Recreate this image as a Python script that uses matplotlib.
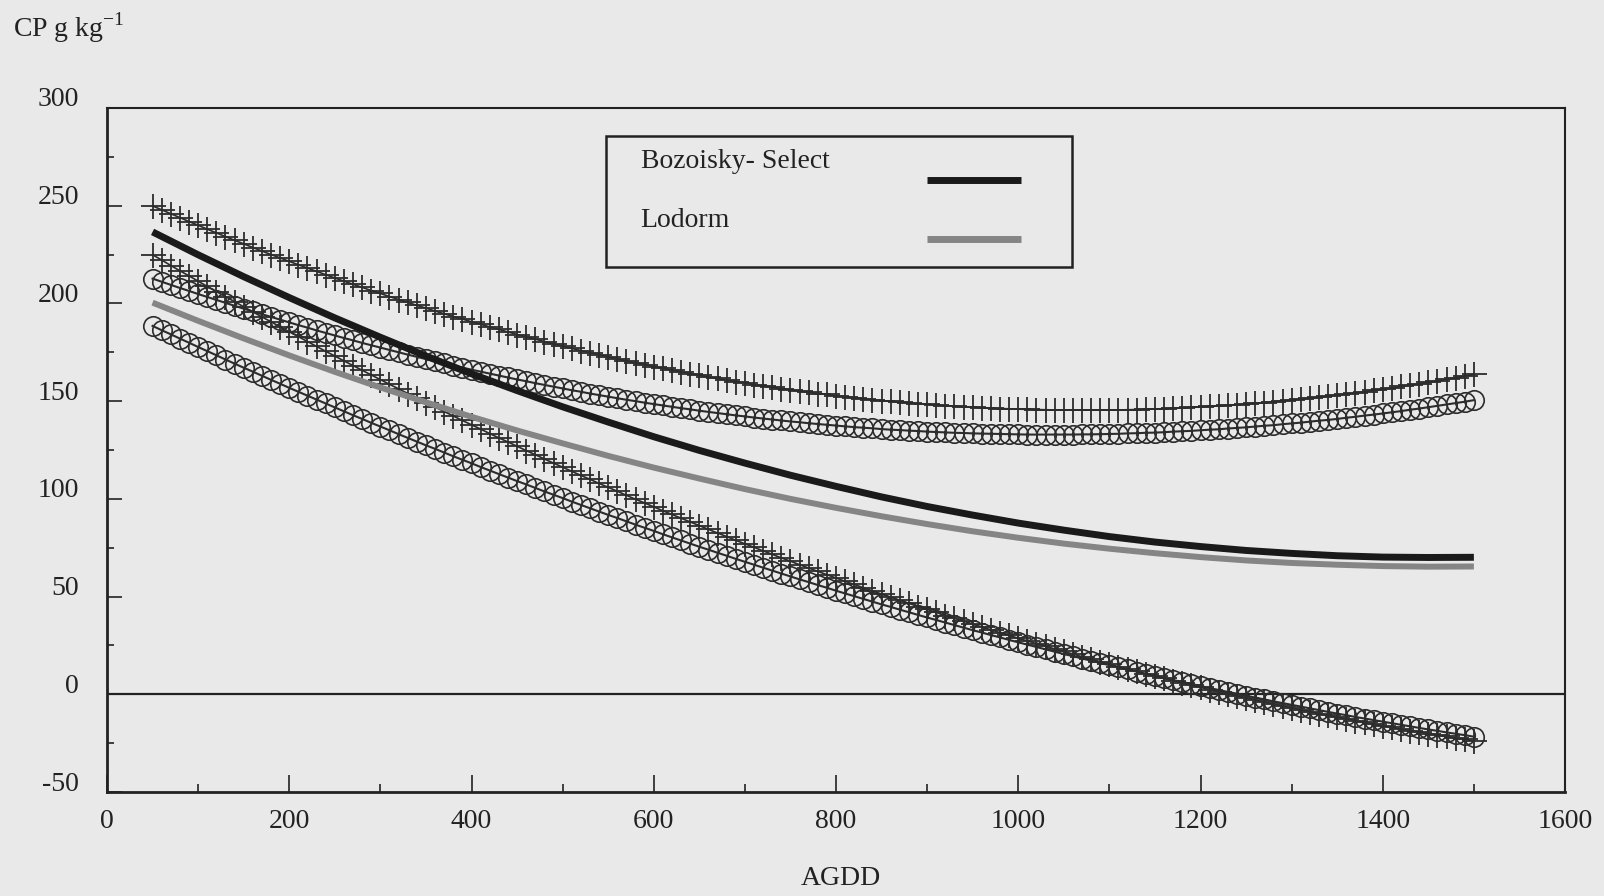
import numpy as np
import matplotlib.pyplot as plt
from matplotlib.transforms import ScaledTranslation
from matplotlib.patches import Rectangle
from matplotlib.lines import Line2D

plt.rcParams['font.family'] = ['Liberation Serif', 'DejaVu Serif']
plt.rcParams['mathtext.fontset'] = 'custom'
plt.rcParams['mathtext.rm'] = 'Liberation Serif'
plt.rcParams['axes.unicode_minus'] = False

# AGDD grid of the confidence-limit markers (every 10 units) and of the fitted curves
agdd_pts = np.arange(50, 1501, 10)
agdd_fit = np.arange(50, 1501, 50)

# fitted CP, g/kg
bozoisky = [236.6, 224.9, 213.7, 203.0, 192.6, 182.7, 173.1, 164.0, 155.4, 147.1,
            139.3, 131.8, 124.8, 118.3, 112.1, 106.4, 101.0, 96.1, 91.7, 87.6,
            84.0, 80.7, 77.9, 75.6, 73.6, 72.1, 70.9, 70.2, 70.0, 70.1]
lodorm = [200.4, 191.1, 182.1, 173.4, 165.0, 157.0, 149.4, 142.0, 135.0, 128.4,
          122.0, 116.0, 110.4, 105.0, 100.0, 95.4, 91.1, 87.1, 83.4, 80.1,
          77.1, 74.5, 72.2, 70.2, 68.5, 67.2, 66.3, 65.6, 65.3, 65.4]

# confidence limits, Bozoisky- Select (+)
boz_upper = [249.9, 247.9, 245.9, 243.9, 241.9, 240.0, 238.0, 236.1, 234.2, 232.3,
             230.5, 228.6, 226.8, 225.0, 223.3, 221.5, 219.8, 218.1, 216.4, 214.7,
             213.0, 211.4, 209.8, 208.2, 206.6, 205.1, 203.5, 202.0, 200.5, 199.0,
             197.6, 196.1, 194.7, 193.3, 192.0, 190.6, 189.3, 188.0, 186.7, 185.4,
             184.1, 182.9, 181.7, 180.5, 179.3, 178.2, 177.0, 175.9, 174.8, 173.7,
             172.7, 171.6, 170.6, 169.6, 168.7, 167.7, 166.8, 165.9, 165.0, 164.1,
             163.2, 162.4, 161.6, 160.8, 160.0, 159.3, 158.5, 157.8, 157.1, 156.4,
             155.8, 155.1, 154.5, 153.9, 153.4, 152.8, 152.3, 151.8, 151.3, 150.8,
             150.3, 149.9, 149.5, 149.1, 148.7, 148.4, 148.0, 147.7, 147.4, 147.1,
             146.9, 146.6, 146.4, 146.2, 146.1, 145.9, 145.8, 145.7, 145.6, 145.5,
             145.4, 145.4, 145.4, 145.4, 145.4, 145.5, 145.5, 145.6, 145.7, 145.8,
             146.0, 146.1, 146.3, 146.5, 146.8, 147.0, 147.3, 147.6, 147.9, 148.2,
             148.5, 148.9, 149.3, 149.7, 150.1, 150.6, 151.0, 151.5, 152.0, 152.5,
             153.1, 153.6, 154.2, 154.8, 155.5, 156.1, 156.8, 157.5, 158.2, 158.9,
             159.6, 160.4, 161.2, 162.0, 162.8, 163.7]
boz_lower = [224.9, 222.2, 219.4, 216.7, 214.1, 211.4, 208.7, 206.1, 203.5, 200.9,
             198.3, 195.7, 193.1, 190.6, 188.0, 185.5, 183.0, 180.5, 178.0, 175.5,
             173.1, 170.6, 168.2, 165.8, 163.4, 161.0, 158.6, 156.3, 153.9, 151.6,
             149.3, 147.0, 144.7, 142.4, 140.1, 137.9, 135.7, 133.4, 131.2, 129.1,
             126.9, 124.7, 122.6, 120.4, 118.3, 116.2, 114.1, 112.0, 110.0, 107.9,
             105.9, 103.9, 101.8, 99.8, 97.9, 95.9, 93.9, 92.0, 90.1, 88.2,
             86.3, 84.4, 82.5, 80.7, 78.8, 77.0, 75.2, 73.4, 71.6, 69.8,
             68.1, 66.3, 64.6, 62.9, 61.2, 59.5, 57.8, 56.2, 54.5, 52.9,
             51.3, 49.7, 48.1, 46.5, 44.9, 43.4, 41.9, 40.3, 38.8, 37.4,
             35.9, 34.4, 33.0, 31.5, 30.1, 28.7, 27.3, 25.9, 24.6, 23.2,
             21.9, 20.6, 19.2, 17.9, 16.7, 15.4, 14.1, 12.9, 11.7, 10.5,
             9.3, 8.1, 6.9, 5.8, 4.6, 3.5, 2.4, 1.3, 0.2, -0.9,
             -1.9, -3.0, -4.0, -5.0, -6.0, -7.0, -8.0, -8.9, -9.9, -10.8,
             -11.7, -12.6, -13.5, -14.4, -15.3, -16.1, -16.9, -17.8, -18.6, -19.3,
             -20.1, -20.9, -21.6, -22.4, -23.1, -23.8]

# confidence limits, Lodorm (o)
lod_upper = [212.7, 211.1, 209.5, 207.9, 206.4, 204.8, 203.3, 201.8, 200.3, 198.8,
             197.3, 195.9, 194.5, 193.1, 191.7, 190.3, 188.9, 187.6, 186.2, 184.9,
             183.6, 182.3, 181.1, 179.8, 178.6, 177.4, 176.2, 175.0, 173.8, 172.7,
             171.5, 170.4, 169.3, 168.2, 167.2, 166.1, 165.1, 164.1, 163.1, 162.1,
             161.1, 160.2, 159.2, 158.3, 157.4, 156.5, 155.6, 154.8, 153.9, 153.1,
             152.3, 151.5, 150.7, 150.0, 149.2, 148.5, 147.8, 147.1, 146.4, 145.8,
             145.1, 144.5, 143.9, 143.3, 142.7, 142.2, 141.6, 141.1, 140.6, 140.1,
             139.6, 139.2, 138.7, 138.3, 137.9, 137.5, 137.1, 136.7, 136.4, 136.1,
             135.7, 135.4, 135.2, 134.9, 134.7, 134.4, 134.2, 134.0, 133.8, 133.7,
             133.5, 133.4, 133.3, 133.2, 133.1, 133.0, 132.9, 132.9, 132.9, 132.9,
             132.9, 132.9, 133.0, 133.0, 133.1, 133.2, 133.3, 133.5, 133.6, 133.8,
             133.9, 134.1, 134.4, 134.6, 134.8, 135.1, 135.4, 135.6, 136.0, 136.3,
             136.6, 137.0, 137.4, 137.7, 138.2, 138.6, 139.0, 139.5, 140.0, 140.4,
             140.9, 141.5, 142.0, 142.6, 143.1, 143.7, 144.3, 144.9, 145.6, 146.2,
             146.9, 147.6, 148.3, 149.0, 149.7, 150.5]
lod_lower = [188.5, 186.3, 184.2, 182.0, 179.9, 177.7, 175.6, 173.5, 171.3, 169.2,
             167.1, 165.1, 163.0, 160.9, 158.9, 156.8, 154.8, 152.8, 150.8, 148.8,
             146.8, 144.8, 142.8, 140.9, 138.9, 137.0, 135.1, 133.1, 131.2, 129.3,
             127.4, 125.6, 123.7, 121.8, 120.0, 118.2, 116.3, 114.5, 112.7, 110.9,
             109.1, 107.4, 105.6, 103.8, 102.1, 100.4, 98.6, 96.9, 95.2, 93.5,
             91.8, 90.2, 88.5, 86.8, 85.2, 83.6, 81.9, 80.3, 78.7, 77.1,
             75.5, 74.0, 72.4, 70.9, 69.3, 67.8, 66.3, 64.8, 63.3, 61.8,
             60.3, 58.8, 57.4, 55.9, 54.5, 53.0, 51.6, 50.2, 48.8, 47.4,
             46.0, 44.7, 43.3, 42.0, 40.6, 39.3, 38.0, 36.7, 35.4, 34.1,
             32.8, 31.6, 30.3, 29.1, 27.8, 26.6, 25.4, 24.2, 23.0, 21.8,
             20.6, 19.5, 18.3, 17.2, 16.0, 14.9, 13.8, 12.7, 11.6, 10.5,
             9.4, 8.4, 7.3, 6.3, 5.3, 4.2, 3.2, 2.2, 1.2, 0.3,
             -0.7, -1.7, -2.6, -3.6, -4.5, -5.4, -6.3, -7.2, -8.1, -9.0,
             -9.9, -10.7, -11.6, -12.4, -13.2, -14.0, -14.8, -15.6, -16.4, -17.2,
             -18.0, -18.7, -19.5, -20.2, -20.9, -21.7]

x_ticks = [0, 200, 400, 600, 800, 1000, 1200, 1400, 1600]
y_ticks = [-50, 0, 50, 100, 150, 200, 250, 300]

BG = '#e9e9e9'
INK = '#222222'
MARK = '#2c2c2c'
FS = 20

fig = plt.figure(figsize=(16.04, 8.96), dpi=100, facecolor=BG)
ax = fig.add_axes([107/1604, 1 - 792/896, 1458/1604, 684/896], facecolor=BG)

# confidence limits
ax.plot(agdd_pts, boz_upper, color=MARK, lw=1.2, marker='+', ms=18, mew=1.3, zorder=2)
ax.plot(agdd_pts, boz_lower, color=MARK, lw=1.2, marker='+', ms=18, mew=1.3, zorder=2)
ax.plot(agdd_pts, lod_upper, color=MARK, lw=1.5, marker='o', ms=14, mew=1.2,
        mfc='none', mec=MARK, zorder=2)
ax.plot(agdd_pts, lod_lower, color=MARK, lw=1.5, marker='o', ms=14, mew=1.2,
        mfc='none', mec=MARK, zorder=2)

# fitted curves
ax.plot(agdd_fit, bozoisky, color='#1a1a1a', lw=5, solid_capstyle='butt', zorder=3)
ax.plot(agdd_fit, lodorm, color='#858585', lw=4.3, solid_capstyle='butt', zorder=3)

ax.axhline(0, color=INK, lw=1.6, zorder=1)

ax.set_xlim(0, 1600)
ax.set_ylim(-50, 300)
ax.set_xticks(x_ticks)
ax.set_yticks(y_ticks)
ax.set_xticks(np.arange(100, 1600, 200), minor=True)
ax.set_yticks(np.arange(-25, 300, 50), minor=True)
ax.tick_params(which='both', direction='in', colors=INK, labelsize=FS, width=1.2)
ax.tick_params(axis='x', which='major', length=12, pad=12)
ax.tick_params(axis='x', which='minor', length=6)
ax.tick_params(axis='y', which='major', length=11, pad=20)
ax.tick_params(axis='y', which='minor', length=5)

for lab in ax.get_yticklabels():
    lab.set_transform(lab.get_transform() + ScaledTranslation(0, 11/100, fig.dpi_scale_trans))

for side in ['left', 'bottom']:
    ax.spines[side].set_linewidth(2.0)
for side in ['top', 'right']:
    ax.spines[side].set_linewidth(1.5)
for sp in ax.spines.values():
    sp.set_color(INK)

# legend drawn as in the original: names on the left, line samples on the right
ax.add_patch(Rectangle((0.342, 0.7675), 0.32, 0.1915, transform=ax.transAxes,
                       facecolor=BG, edgecolor=INK, lw=1.8, zorder=5))
ax.text(0.366, 0.9216, 'Bozoisky- Select', transform=ax.transAxes, fontsize=FS,
        va='center', ha='left', color=INK, zorder=6)
ax.text(0.366, 0.835, 'Lodorm', transform=ax.transAxes, fontsize=FS,
        va='center', ha='left', color=INK, zorder=6)
ax.add_line(Line2D([0.5625, 0.627], [0.8947, 0.8947], transform=ax.transAxes,
                   color='#1a1a1a', lw=5, solid_capstyle='butt', zorder=6))
ax.add_line(Line2D([0.5625, 0.627], [0.8085, 0.8085], transform=ax.transAxes,
                   color='#858585', lw=5, solid_capstyle='butt', zorder=6))

fig.text(13/1604, 1 - 28/896, r'CP g kg$^{\mathregular{-1}}$', fontsize=FS,
         ha='left', va='center', color=INK)
fig.text(841/1604, 1 - 878/896, 'AGDD', fontsize=FS, ha='center', va='center', color=INK)

fig.savefig('out.png', dpi=100, facecolor=BG)
